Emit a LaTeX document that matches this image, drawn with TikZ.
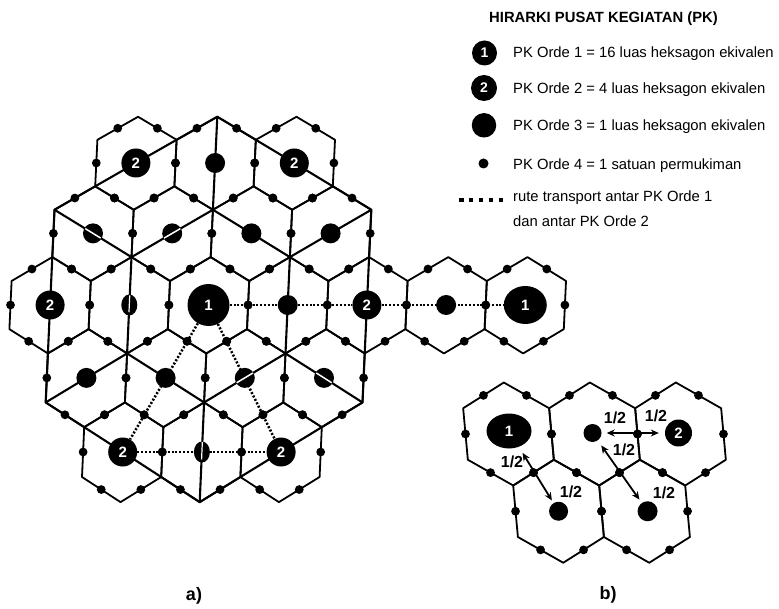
\documentclass[tikz,border=0pt]{standalone}
\usepackage{fontspec}
\setmainfont{Liberation Sans}
\usetikzlibrary{shapes.geometric,arrows.meta}
\begin{document}
\begin{tikzpicture}[x=1pt,y=1pt,
 declare function={ax(\pp,\qq)=208.5+39.6*\pp+2.2*\qq; ay(\pp,\qq)=-(305-48.17*\qq+0.278*\qq*\qq); bx(\pp,\qq)=508.5+43*\pp-4.7*\qq; by(\pp,\qq)=-(434-51.5*\qq);},
 hexline/.style={line width=1.8pt,line join=round},
 bigline/.style={line width=2.1pt,line join=round},
 route/.style={line width=2.5pt,dash pattern=on 2pt off 1.8pt},
 marknum/.style={fill=black,text=white,inner sep=0pt,font=\bfseries\fontsize{15}{15}\selectfont},
 ordone/.style={circle,marknum,minimum size=42pt},
 ordtwo/.style={circle,marknum,minimum size=29pt},
 ordthree/.style={circle,fill=black,inner sep=0pt,minimum size=20pt},
 biarrow/.style={line width=1.8pt,{Stealth[length=8pt,width=7pt]}-{Stealth[length=8pt,width=7pt]}},
 half/.style={font=\bfseries\fontsize{16}{16}\selectfont,inner sep=0pt},
 legend/.style={anchor=base west,inner sep=0pt,font=\fontsize{14.8}{14.8}\selectfont},
 whitestroke/.style={white,line width=1.5pt},
]
\fill[white] (0,0) rectangle (779,-609);
\useasboundingbox (0,0) rectangle (779,-609);

% lattice points of part a)
\foreach \ii in {-5,...,9}{\foreach \jj in {-8,...,8}{\coordinate (a\ii_\jj) at ({ax(\ii,\jj/2)},{ay(\ii,\jj/2)});}}

% small hexagons of part a)
\foreach \hp/\hq in {-2/3,0/3,2/3,-3/1.5,-1/1.5,1/1.5,3/1.5,-4/0,-2/0,0/0,2/0,4/0,6/0,8/0,-3/-1.5,-1/-1.5,1/-1.5,3/-1.5,-2/-3,0/-3,2/-3}{
 \draw[hexline] ({ax(\hp,\hq+1)},{ay(\hp,\hq+1)}) -- ({ax(\hp+1,\hq+0.5)},{ay(\hp+1,\hq+0.5)}) -- ({ax(\hp+1,\hq-0.5)},{ay(\hp+1,\hq-0.5)}) -- ({ax(\hp,\hq-1)},{ay(\hp,\hq-1)}) -- ({ax(\hp-1,\hq-0.5)},{ay(\hp-1,\hq-0.5)}) -- ({ax(\hp-1,\hq+0.5)},{ay(\hp-1,\hq+0.5)}) -- cycle;
}

% big lines: outer hexagon, inner hexagon, spokes
\draw[bigline] (a-4_4) -- (a-3_5) -- (a-2_6) -- (a-1_7) -- (a0_8) -- (a1_7) -- (a2_6) -- (a3_5) -- (a4_4) -- (a4_2) -- (a4_0) -- (a4_-2) -- (a4_-4) -- (a3_-5) -- (a2_-6) -- (a1_-7) -- (a0_-8) -- (a-1_-7) -- (a-2_-6) -- (a-3_-5) -- (a-4_-4) -- (a-4_-2) -- (a-4_0) -- (a-4_2) -- cycle;
\draw[bigline] (a0_4) -- (a1_3) -- (a2_2) -- (a2_0) -- (a2_-2) -- (a1_-3) -- (a0_-4) -- (a-1_-3) -- (a-2_-2) -- (a-2_0) -- (a-2_2) -- (a-1_3) -- cycle;
\draw[bigline] (a0_4) -- (a0_6) -- (a0_8);
\draw[bigline] (a2_2) -- (a3_3) -- (a4_4);
\draw[bigline] (a2_-2) -- (a3_-3) -- (a4_-4);
\draw[bigline] (a0_-4) -- (a0_-6) -- (a0_-8);
\draw[bigline] (a-2_-2) -- (a-3_-3) -- (a-4_-4);
\draw[bigline] (a-2_2) -- (a-3_3) -- (a-4_4);

% order-4 dots on every edge of part a)
\foreach \hp/\hq in {-2/3,0/3,2/3,-3/1.5,-1/1.5,1/1.5,3/1.5,-4/0,-2/0,0/0,2/0,4/0,6/0,8/0,-3/-1.5,-1/-1.5,1/-1.5,3/-1.5,-2/-3,0/-3,2/-3}{
 \foreach \dp/\dq in {0.5/0.75,1/0,0.5/-0.75,-0.5/-0.75,-1/0,-0.5/0.75}{
  \fill ({ax(\hp+(\dp),\hq+(\dq))},{ay(\hp+(\dp),\hq+(\dq))}) circle[radius=4.4pt];
 }
}

% centres of part a)
\node[ordone] (m1) at (a0_0) {1};
\node[ordone,ellipse,minimum width=43pt,minimum height=38pt] (m1r) at (a8_0) {1};
\node[ordtwo] (m2l) at (a-4_0) {2};
\node[ordtwo] (m2r) at (a4_0) {2};
\node[ordtwo] (m2ul) at (a-2_6) {2};
\node[ordtwo] (m2ur) at (a2_6) {2};
\node[ordtwo] (m2ll) at (a-2_-6) {2};
\node[ordtwo] (m2lr) at (a2_-6) {2};
\node[ordthree] (d1) at (a0_6) {};
\node[ordthree] (d2) at (a-3_3) {};
\node[ordthree] (d3) at (a-1_3) {};
\node[ordthree] (d4) at (a1_3) {};
\node[ordthree] (d5) at (a3_3) {};
\node[ordthree,ellipse,minimum width=16pt,minimum height=21pt] (d6) at (a-2_0) {};
\node[ordthree] (d7) at (a2_0) {};
\node[ordthree] (d8) at (a6_0) {};
\node[ordthree] (d9) at (a-3_-3) {};
\node[ordthree] (d10) at (a-1_-3) {};
\node[ordthree] (d11) at (a1_-3) {};
\node[ordthree] (d12) at (a3_-3) {};
\node[ordthree,ellipse,minimum width=16pt,minimum height=21pt] (d13) at (a0_-6) {};

% transport routes
\draw[route] (m1) -- (m2r);
\draw[route] (m2r) -- (m1r);
\draw[route] (m1) -- (m2ll);
\draw[route] (m1) -- (m2lr);
\draw[route] (m2ll) -- (m2lr);

% white strokes across some dots
\draw[whitestroke] ({ax(-3.2,1.6)},{ay(-3.2,1.6)}) -- ({ax(-2.8,1.4)},{ay(-2.8,1.4)});
\draw[whitestroke] ({ax(-1.2,1.4)},{ay(-1.2,1.4)}) -- ({ax(-0.8,1.6)},{ay(-0.8,1.6)});
\draw[whitestroke] ({ax(0.8,-1.6)},{ay(0.8,-1.6)}) -- ({ax(1.2,-1.4)},{ay(1.2,-1.4)});
\draw[whitestroke] ({ax(2.8,-1.4)},{ay(2.8,-1.4)}) -- ({ax(3.2,-1.6)},{ay(3.2,-1.6)});
\draw[whitestroke,line width=1.2pt] ({ax(-2,0.2)},{ay(-2,0.2)}) -- ({ax(-2,-0.15)},{ay(-2,-0.15)});
\draw[whitestroke,line width=1.2pt] ({ax(0,-2.8)},{ay(0,-2.8)}) -- ({ax(0,-3.15)},{ay(0,-3.15)});

% legend
\node[anchor=base west,inner sep=0pt,font=\bfseries\fontsize{14.8}{14.8}\selectfont] (title) at (489,-22.7) {HIRARKI PUSAT KEGIATAN (PK)};
\node[circle,marknum,minimum size=25pt,font=\bfseries\fontsize{14}{14}\selectfont] (k1) at (484.5,-53) {1};
\node[circle,marknum,minimum size=26pt,font=\bfseries\fontsize{14}{14}\selectfont] (k2) at (484,-88) {2};
\node[circle,fill=black,inner sep=0pt,minimum size=24.5pt] (k3) at (484,-125.3) {};
\node[circle,fill=black,inner sep=0pt,minimum size=10pt] (k4) at (483.5,-163.5) {};
\coordinate (k5a) at (459,-200);
\coordinate (k5b) at (503,-200);
\draw[line width=4.5pt,dash pattern=on 4.5pt off 5.4pt] (k5a) -- (k5b);
\node[legend] (t1) at (513,-57.5) {PK Orde 1 = 16 luas heksagon ekivalen};
\node[legend] (t2) at (513,-94) {PK Orde 2 = 4 luas heksagon ekivalen};
\node[legend] (t3) at (513,-131) {PK Orde 3 = 1 luas heksagon ekivalen};
\node[legend] (t4) at (513,-170) {PK Orde 4 = 1 satuan permukiman};
\node[legend] (t5) at (513,-201.5) {rute transport antar PK Orde 1};
\node[legend] (t6) at (513,-226.7) {dan antar PK Orde 2};

% part b) hexagons
\foreach \hp/\hq in {0/0,2/0,4/0,1/-1.5,3/-1.5}{
 \draw[hexline] ({bx(\hp,\hq+1)},{by(\hp,\hq+1)}) -- ({bx(\hp+1,\hq+0.5)},{by(\hp+1,\hq+0.5)}) -- ({bx(\hp+1,\hq-0.5)},{by(\hp+1,\hq-0.5)}) -- ({bx(\hp,\hq-1)},{by(\hp,\hq-1)}) -- ({bx(\hp-1,\hq-0.5)},{by(\hp-1,\hq-0.5)}) -- ({bx(\hp-1,\hq+0.5)},{by(\hp-1,\hq+0.5)}) -- cycle;
 \foreach \dp/\dq in {0.5/0.75,1/0,0.5/-0.75,-0.5/-0.75,-1/0,-0.5/0.75}{
  \fill ({bx(\hp+(\dp),\hq+(\dq))},{by(\hp+(\dp),\hq+(\dq))}) circle[radius=4.4pt];
 }
}
\node[ordone,ellipse,minimum width=45pt,minimum height=35pt] (b1) at ({bx(0,0)+0.5},{by(0,0)+3}) {1};
\node[ordthree,minimum size=18pt] (b3a) at ({bx(2,0)-2},{by(2,0)+1}) {};
\node[ordtwo,minimum size=27pt] (b2) at ({bx(4,0)-2},{by(4,0)+1}) {2};
\node[ordthree,minimum size=19pt] (b3b) at ({bx(1,-1.5)},{by(1,-1.5)}) {};
\node[ordthree,minimum size=20pt] (b3c) at ({bx(3,-1.5)+3},{by(3,-1.5)}) {};
\draw[biarrow,shorten <=7pt,shorten >=3pt] (b1) -- (b3b);
\draw[biarrow,shorten <=5pt,shorten >=6pt] (b3a) -- (b2);
\draw[biarrow,shorten <=6pt,shorten >=4pt] (b3a) -- (b3c);
\node[half] (h1) at (512,-461.7) {1/2};
\node[half] (h2) at (571,-491.7) {1/2};
\node[half] (h3) at (615,-418.3) {1/2};
\node[half] (h4) at (656,-416) {1/2};
\node[half] (h5) at (624,-450) {1/2};
\node[half] (h6) at (664,-493) {1/2};

% captions
\node[font=\bfseries\fontsize{18}{18}\selectfont,inner sep=0pt] (capa) at (194,-596) {a)};
\node[font=\bfseries\fontsize{18}{18}\selectfont,inner sep=0pt] (capb) at (608,-595) {b)};
\end{tikzpicture}
\end{document}
